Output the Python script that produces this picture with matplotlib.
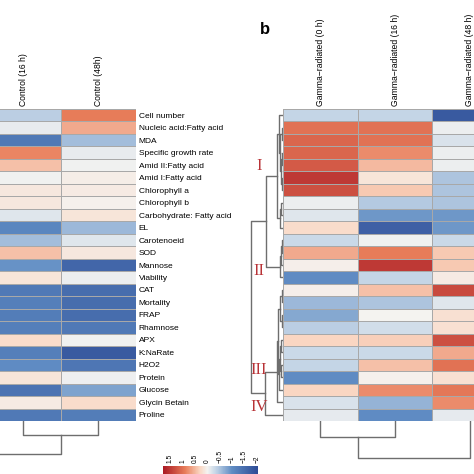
import numpy as np
import matplotlib
matplotlib.use("Agg")
import matplotlib.pyplot as plt
from matplotlib.colors import LinearSegmentedColormap, Normalize
from matplotlib.cm import ScalarMappable

plt.rcParams['font.family'] = ['Liberation Sans', 'DejaVu Sans']

# ---- data ----
row_names = ["Cell number", "Nucleic acid:Fatty acid", "MDA", "Specific growth rate",
             "Amid II:Fatty acid", "Amid I:Fatty acid", "Chlorophyll a", "Chlorophyll b",
             "Carbohydrate: Fatty acid", "EL", "Carotenoeid", "SOD", "Mannose", "Viability",
             "CAT", "Mortality", "FRAP", "Rhamnose", "APX", "K:NaRate", "H2O2", "Protein",
             "Glucose", "Glycin Betain", "Proline"]
left_columns = ["Control (16 h)", "Control (48h)"]
control_16h = [-0.4, -0.08, -1.3, 0.85, 0.45, -0.03, 0.12, 0.12, -0.15, -1.1, -0.55, 0.45, -0.95,
               0.15, -1.3, -1.2, -1.25, -1.2, 0.25, -1.2, -1.0, 0.15, -1.4, 0.1, -1.3]
control_48h = [0.9, 0.6, -0.55, -0.08, -0.03, 0.06, 0.1, 0.04, 0.15, -0.6, -0.15, 0.12, -1.6,
               -0.05, -1.5, -1.5, -1.5, -1.3, -0.03, -1.8, -1.35, -0.04, -0.8, 0.25, -1.25]

right_columns = ["Gamma\u2212radiated (0 h)", "Gamma\u2212radiated (16 h)", "Gamma\u2212radiated (48 h)"]
gamma_0h = [-0.35, 1.0, 1.1, 1.1, 1.2, 1.5, 1.3, -0.05, -0.15, 0.25, -0.3, 0.6, 0.05, -1.0, 0.05,
            -0.6, -0.75, -0.4, 0.3, -0.3, -0.35, -1.0, 0.3, -0.2, -0.1]
gamma_16h = [-0.35, 1.0, 1.0, 0.8, 0.5, 0.15, 0.4, -0.45, -0.9, -1.7, -0.02, 0.9, 1.5, -0.35, 0.45,
             -0.5, 0.0, -0.25, 0.35, -0.3, 0.45, 0.03, 0.8, -0.65, -1.0]
gamma_48h = [-1.8, -0.05, -0.2, -0.05, -0.05, -0.5, -0.5, -0.5, -0.9, -0.9, -0.3, 0.4, 0.4, 0.1,
             1.35, -0.15, 0.2, 0.2, 1.3, 0.6, 1.0, 0.2, 0.95, 0.8, -0.1]

# dendrograms: (child a, child b, height); ids >= number of leaves are earlier merges
left_col_merges = [(1, 2, 14), (0, 3, 33)]          # leaf 0 = hidden Control column
right_col_merges = [(0, 1, 16), (2, 3, 37)]
right_row_merges = [(1, 2, 1.5), (3, 4, 1.5), (5, 6, 1.2), (26, 27, 2.5), (25, 28, 3.5),
                    (0, 29, 4.5), (7, 8, 2), (31, 9, 3), (30, 32, 6), (10, 11, 1.5),
                    (34, 12, 2.5), (35, 13, 3.5), (33, 36, 17), (14, 15, 1.5), (16, 17, 1.5),
                    (38, 39, 3), (18, 19, 2), (20, 21, 2), (41, 42, 3), (43, 22, 4),
                    (40, 44, 5), (45, 23, 6), (46, 24, 18), (37, 47, 32)]
cluster_labels = ["I", "II", "III", "IV"]
cluster_rows = [4.6, 13.0, 20.9, 23.9]

cbar_ticks = [1.5, 1, 0.5, 0, -0.5, -1, -1.5, -2]
cbar_labels = ["1.5", "1", "0.5", "0", "\u22120.5", "\u22121", "\u22121.5", "\u22122"]

# ---- colours ----
vmin, vmax = -2.05, 1.8
stops = [(-2.05, (45, 75, 150)), (-1.0, (95, 140, 195)), (-0.35, (195, 212, 230)),
         (0.0, (244, 243, 241)), (0.3, (250, 215, 195)), (0.9, (232, 125, 90)),
         (1.8, (170, 25, 35))]
cmap = LinearSegmentedColormap.from_list(
    "heat", [((v - vmin) / (vmax - vmin), tuple(c / 255 for c in rgb)) for v, rgb in stops])
norm = Normalize(vmin=vmin, vmax=vmax)

W = H = 474
fig = plt.figure(figsize=(4.74, 4.74), dpi=100)


def px_axes(x0, y0, x1, y1):
    ax = fig.add_axes([x0 / W, 1 - y1 / H, (x1 - x0) / W, (y1 - y0) / H])
    ax.set_axis_off()
    return ax


def heatmap(ax, cols, names):
    data = np.column_stack(cols)
    ax.set_axis_on()
    ax.pcolormesh(data, cmap=cmap, norm=norm, edgecolors='#a8a8a8', linewidth=0.6)
    ax.set_ylim(data.shape[0], 0)
    ax.set_xlim(0, data.shape[1])
    for s in ax.spines.values():
        s.set_visible(False)
    ax.xaxis.tick_top()
    ax.set_xticks(np.arange(data.shape[1]) + 0.5)
    ax.set_xticklabels(names, rotation=90, fontsize=6.2)
    ax.tick_params(length=0, pad=2)


def dendro(ax, merges, leaf_pos, rows):
    pos = list(leaf_pos)
    hts = [0.0] * len(pos)
    for a, b, h in merges:
        lp = [pos[a], pos[a], pos[b], pos[b]]
        hp = [hts[a], h, h, hts[b]]
        if rows:
            ax.plot(hp, lp, color='#6e6e6e', lw=1.0)
        else:
            ax.plot(lp, hp, color='#6e6e6e', lw=1.0)
        pos.append((pos[a] + pos[b]) / 2)
        hts.append(h)


# ---- left panel (cropped) ----
ax_l = px_axes(-14, 109, 136, 421)
heatmap(ax_l, [control_16h, control_48h], left_columns)
ax_l.yaxis.tick_right()
ax_l.set_yticks(np.arange(len(row_names)) + 0.5)
ax_l.set_yticklabels(row_names, fontsize=6.0)

ax_lc = px_axes(-89, 421, 136, 461)
dendro(ax_lc, left_col_merges, [-0.5, 0.5, 1.5], rows=False)
ax_lc.set_xlim(-1, 2)
ax_lc.set_ylim(40, 0)

# ---- right panel b ----
ax_r = px_axes(283, 109, 507, 421)
heatmap(ax_r, [gamma_0h, gamma_16h, gamma_48h], right_columns)
ax_r.set_yticks([])

ax_rc = px_axes(283, 421, 507, 461)
dendro(ax_rc, right_col_merges, [0.5, 1.5, 2.5], rows=False)
ax_rc.set_xlim(0, 3)
ax_rc.set_ylim(40, 0)

ax_rr = px_axes(248, 109, 283, 421)
dendro(ax_rr, right_row_merges, np.arange(len(row_names)) + 0.5, rows=True)
ax_rr.set_xlim(35, 0)
ax_rr.set_ylim(len(row_names), 0)
for lab, r in zip(cluster_labels, cluster_rows):
    ax_rr.text(24, r, lab, color='#b83236', fontsize=12, family='Liberation Serif',
               ha='center', va='center')

fig.text(265 / W, 1 - 30 / H, "b", fontsize=12, fontweight='bold', ha='center', va='center')

# ---- colour key ----
cax = fig.add_axes([163 / W, 1 - 479 / H, 95 / W, 13 / H])
cb = fig.colorbar(ScalarMappable(norm=norm, cmap=cmap), cax=cax, orientation='horizontal')
cb.outline.set_visible(False)
cax.set_xlim(vmax, vmin)
cax.xaxis.set_ticks_position('top')
cb.set_ticks(cbar_ticks)
cb.set_ticklabels(cbar_labels)
cax.tick_params(length=0, pad=2, labelsize=4.8, labelrotation=90)

fig.savefig("out.png", dpi=100)
